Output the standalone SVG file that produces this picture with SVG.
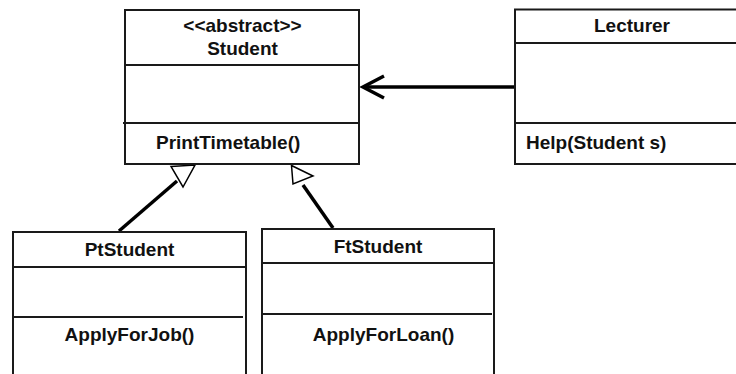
<svg xmlns="http://www.w3.org/2000/svg" width="736" height="374" viewBox="0 0 736 374">
<style>
.box{fill:#fff;stroke:#1a1a1a;stroke-width:2}
.div{stroke:#1a1a1a;stroke-width:2;fill:none}
.t{font-family:"Liberation Sans",Arial,sans-serif;font-weight:bold;font-size:19px;fill:#111}
.c{text-anchor:middle}
.con{stroke:#000;stroke-width:3.5;fill:none}
.tri{fill:#fff;stroke:#000;stroke-width:1.5}
</style>
<rect width="736" height="374" fill="#fff"/>
<g id="connectors">
<line class="con" x1="515" y1="87" x2="363" y2="87"/>
<polyline class="con" points="384,76 363,87 384,98"/>
<line class="con" x1="119" y1="231" x2="177" y2="181"/>
<polygon class="tri" points="171,166.5 195,165 183,187"/>
<line class="con" x1="333" y1="228" x2="303" y2="185"/>
<polygon class="tri" points="291.5,165.5 313,176 293,184"/>
</g>
<g id="student">
<rect class="box" x="125" y="10" width="234" height="154"/>
<line class="div" x1="125" y1="65" x2="359" y2="65"/>
<line class="div" x1="123" y1="123" x2="359" y2="123"/>
<text class="t c" x="242.5" y="32">&lt;&lt;abstract&gt;&gt;</text>
<text class="t c" x="242.5" y="55">Student</text>
<text class="t" x="156" y="149">PrintTimetable()</text>
</g>
<g id="lecturer">
<rect class="box" x="515" y="9.5" width="230" height="154.5"/>
<line class="div" x1="515" y1="43" x2="736" y2="43"/>
<line class="div" x1="515" y1="123" x2="736" y2="123"/>
<text class="t c" x="632" y="32">Lecturer</text>
<text class="t" x="526" y="149">Help(Student s)</text>
</g>
<g id="ptstudent">
<rect class="box" x="13" y="232" width="233" height="160"/>
<line class="div" x1="13" y1="267" x2="246" y2="267"/>
<line class="div" x1="13" y1="317" x2="243" y2="317"/>
<text class="t c" x="129.5" y="256">PtStudent</text>
<text class="t c" x="129.5" y="341">ApplyForJob()</text>
</g>
<g id="ftstudent">
<rect class="box" x="262" y="229" width="232" height="160"/>
<line class="div" x1="262" y1="263" x2="494" y2="263"/>
<line class="div" x1="262" y1="314" x2="492" y2="314"/>
<text class="t c" x="378" y="253">FtStudent</text>
<text class="t c" x="383.5" y="341">ApplyForLoan()</text>
</g>
</svg>
